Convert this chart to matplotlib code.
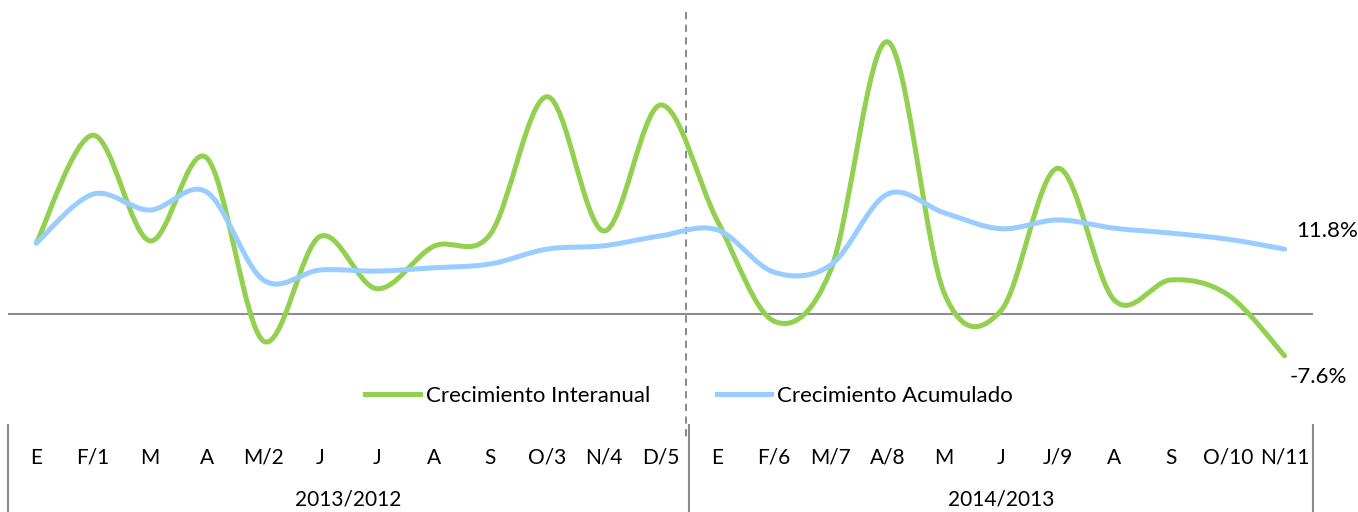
import numpy as np
import matplotlib
matplotlib.use("Agg")
import matplotlib.pyplot as plt
from matplotlib.path import Path
from matplotlib.patches import PathPatch
from matplotlib.lines import Line2D

plt.rcParams['font.family'] = ['Lato', 'DejaVu Sans']

months = ["E", "F/1", "M", "A", "M/2", "J", "J", "A", "S", "O/3", "N/4", "D/5",
          "E", "F/6", "M/7", "A/8", "M", "J", "J/9", "A", "S", "O/10", "N/11"]
years = ["2013/2012", "2014/2013"]
year_len = [12, 11]

interanual = [12.9, 32.5, 13.3, 28.4, -4.9, 14.1, 4.6, 12.3, 14.5, 39.5, 15.1, 38.0,
              17.0, -1.3, 8.0, 49.5, 3.8, 0.6, 26.5, 2.5, 6.2, 3.5, -7.6]
acumulado = [12.9, 21.8, 18.9, 22.2, 6.2, 8.0, 7.8, 8.4, 9.1, 11.8, 12.4, 14.2,
             15.3, 7.6, 8.9, 21.8, 18.4, 15.5, 17.1, 15.6, 14.7, 13.6, 11.8]

GREEN = "#92D050"
BLUE = "#99CCFF"


def smooth_path(y):
    # cubic bezier through the points (like excel's smoothed line)
    x = np.arange(len(y), dtype=float)
    y = np.asarray(y, dtype=float)
    n = len(y)
    verts = [(x[0], y[0])]
    codes = [Path.MOVETO]
    for i in range(n - 1):
        i0 = max(i - 1, 0)
        i3 = min(i + 2, n - 1)
        c1 = (x[i] + (x[i + 1] - x[i0]) / 6, y[i] + (y[i + 1] - y[i0]) / 6)
        c2 = (x[i + 1] - (x[i3] - x[i]) / 6, y[i + 1] - (y[i3] - y[i]) / 6)
        verts += [c1, c2, (x[i + 1], y[i + 1])]
        codes += [Path.CURVE4] * 3
    return Path(verts, codes)


W, H = 1358, 512
fig = plt.figure(figsize=(W / 100, H / 100), dpi=100)
ax = fig.add_axes([8 / W, 0, 1305 / W, 1])

zero_px = 314
k = 5.5  # px per unit
ax.set_xlim(-0.5, len(months) - 0.5)
ax.set_ylim((zero_px - H) / k, zero_px / k)
ax.axis("off")


def py(px):
    return (zero_px - px) / k


ax.axhline(0, color="#8c8c8c", lw=1.5, zorder=1)
ax.plot([11.45, 11.45], [py(12), py(440)], color="#7f7f7f", lw=1.3,
        ls=(0, (4, 3)), zorder=1)

for vals, col in [(interanual, GREEN), (acumulado, BLUE)]:
    ax.add_patch(PathPatch(smooth_path(vals), fill=False, edgecolor=col,
                           lw=3.6, capstyle="round", joinstyle="round", zorder=3))

ax.text(len(months) - 1 + 0.2, acumulado[-1] + 3.3, f"{acumulado[-1]:.1f}%",
        fontsize=16, ha="left", va="center")
ax.text(len(months) - 1 + 0.08, interanual[-1] - 3.8, f"{interanual[-1]:.1f}%",
        fontsize=16, ha="left", va="center")

handles = [Line2D([], [], color=GREEN, lw=3.6),
           Line2D([], [], color=BLUE, lw=3.6)]
ax.legend(handles, ["Crecimiento Interanual", "Crecimiento Acumulado"],
          loc="center", bbox_to_anchor=((689 - 8) / 1305, 1 - 396 / H), ncol=2,
          frameon=False, fontsize=16, handlelength=2.45, handletextpad=0.27,
          columnspacing=3.0)

# category axis below
for i, m in enumerate(months):
    ax.text(i, py(458), m, fontsize=15, ha="center", va="center")
start = 0
for yl, n in zip(years, year_len):
    ax.plot([start - 0.5, start - 0.5], [py(425), py(H)], color="#8c8c8c",
            lw=1.5, clip_on=False)
    ax.text(start + (n - 1) / 2, py(500), yl, fontsize=15, ha="center",
            va="center")
    start += n
ax.plot([start - 0.5, start - 0.5], [py(425), py(H)], color="#8c8c8c", lw=1.5,
        clip_on=False)

fig.savefig("out.png", dpi=100)
